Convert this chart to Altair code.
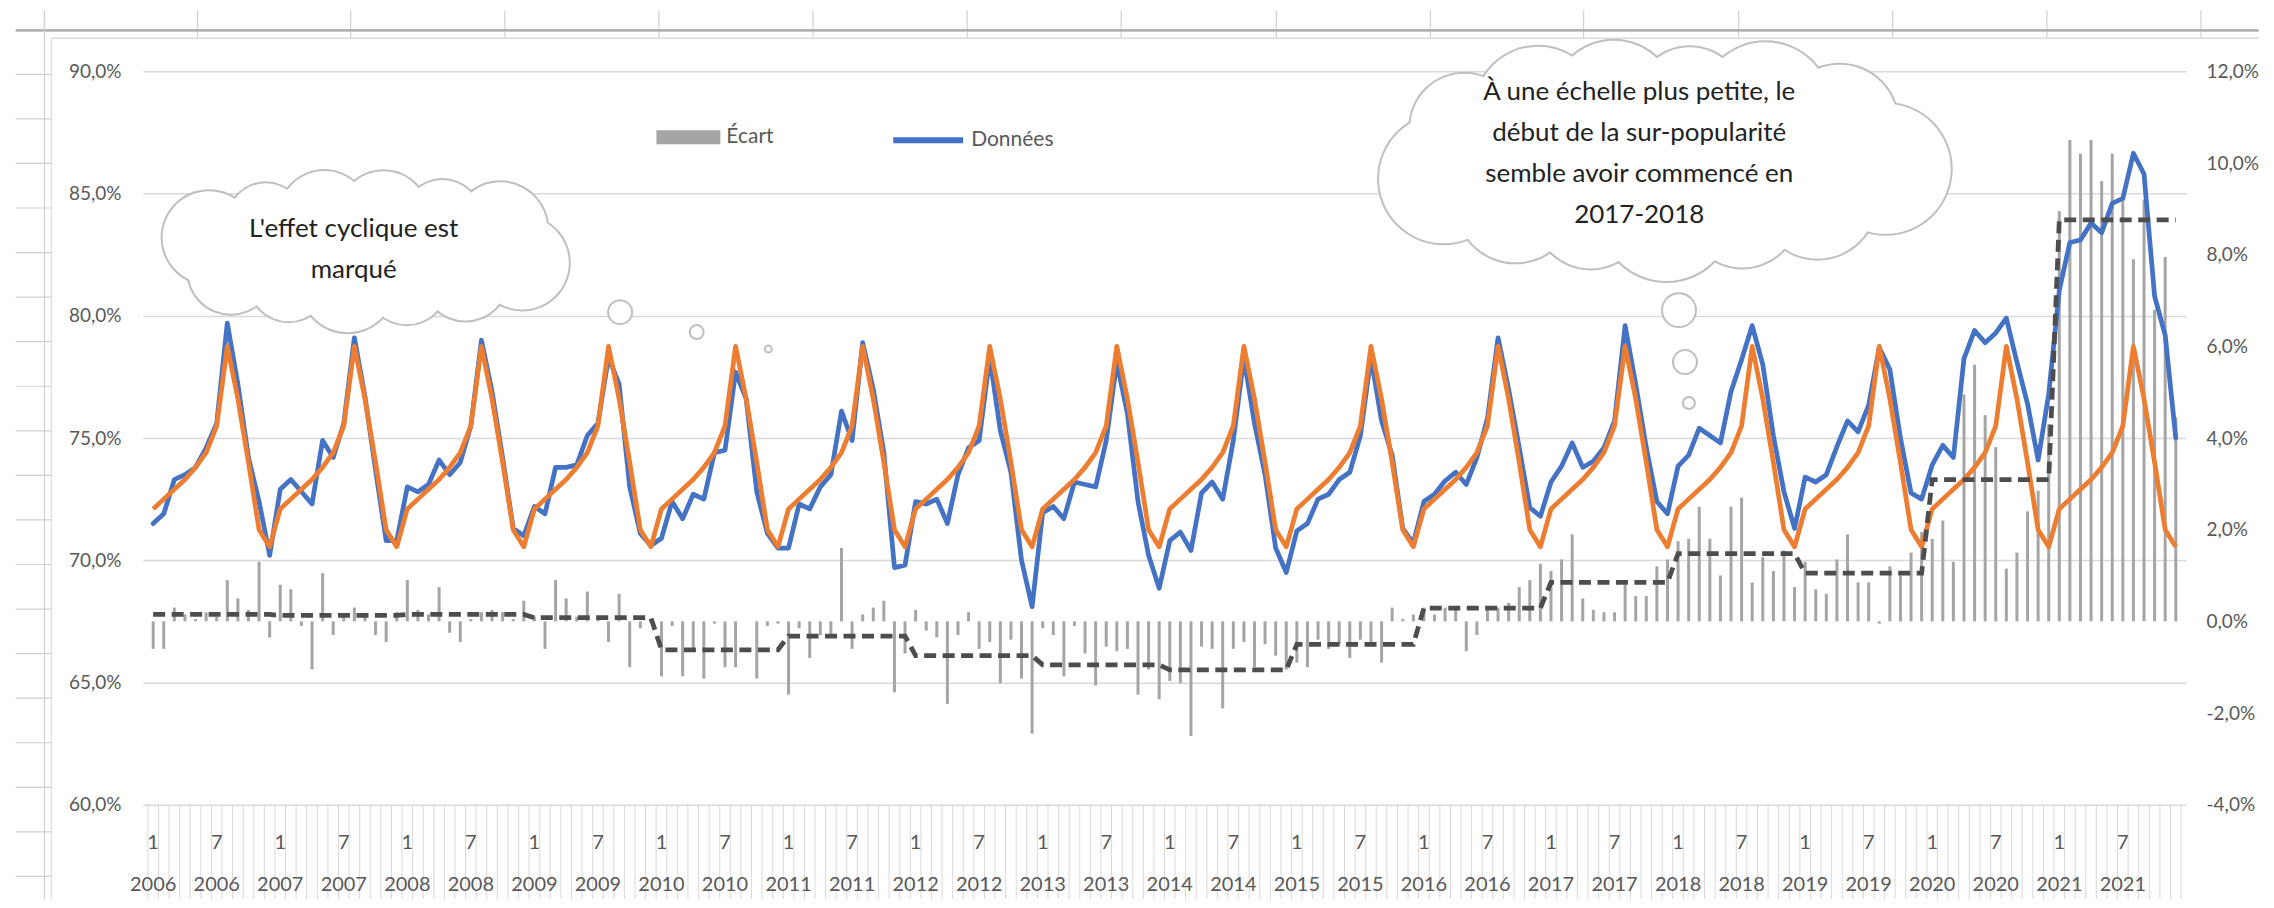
import numpy as np
import pandas as pd
import altair as alt

# ---------------- data ----------------
annees = list(range(2006, 2022))
etiquettes_mois = {0: "1", 6: "7"}   # month labels shown under January and July

donnees_par_an = [
    [71.5, 71.9, 73.3, 73.5, 73.8, 74.6, 75.6, 79.7, 77.2, 74.2, 72.4, 70.2],
    [72.9, 73.3, 72.8, 72.3, 74.9, 74.2, 75.6, 79.1, 76.7, 73.7, 70.8, 70.8],
    [73.0, 72.8, 73.1, 74.1, 73.5, 74.0, 75.5, 79.0, 76.9, 74.2, 71.3, 71.0],
    [72.2, 71.9, 73.8, 73.8, 73.9, 75.1, 75.6, 78.3, 77.2, 73.0, 71.1, 70.6],
    [70.9, 72.4, 71.7, 72.7, 72.5, 74.4, 74.5, 77.7, 76.6, 72.8, 71.1, 70.5],
    [70.5, 72.3, 72.1, 73.0, 73.5, 76.1, 74.9, 78.9, 77.0, 74.4, 69.7, 69.8],
    [72.4, 72.3, 72.5, 71.5, 73.5, 74.6, 74.9, 78.3, 75.3, 73.6, 70.0, 68.1],
    [71.95, 72.2, 71.7, 73.2, 73.1, 73.0, 74.9, 78.1, 76.0, 72.4, 70.2, 68.85],
    [70.8, 71.15, 70.4, 72.75, 73.2, 72.5, 74.9, 78.3, 75.6, 73.5, 70.5, 69.5],
    [71.2, 71.5, 72.5, 72.7, 73.3, 73.6, 75.1, 78.3, 75.7, 74.3, 71.3, 70.7],
    [72.4, 72.7, 73.25, 73.6, 73.1, 74.2, 75.8, 79.1, 77.0, 74.6, 72.15, 71.8],
    [73.2, 73.85, 74.8, 73.8, 74.05, 74.6, 75.7, 79.6, 77.2, 74.6, 72.4, 71.9],
    [73.85, 74.3, 75.4, 75.1, 74.8, 76.9, 78.2, 79.6, 78.0, 75.1, 72.8, 71.3],
    [73.4, 73.2, 73.5, 74.65, 75.7, 75.25, 76.35, 78.7, 77.8, 75.0, 72.75, 72.5],
    [73.9, 74.7, 74.2, 78.25, 79.4, 78.9, 79.3, 79.9, 78.1, 76.4, 74.1, 76.8],
    [81.05, 83.0, 83.1, 83.8, 83.4, 84.6, 84.8, 86.65, 85.8, 80.8, 79.2, 75.0],
]

modele_par_an = [
    [72.1, 72.5, 72.9, 73.3, 73.8, 74.4, 75.5, 78.75, 76.6, 74.0, 71.25, 70.55],
    [72.1, 72.5, 72.9, 73.3, 73.8, 74.4, 75.5, 78.75, 76.6, 74.0, 71.25, 70.55],
    [72.1, 72.5, 72.9, 73.3, 73.8, 74.4, 75.5, 78.75, 76.6, 74.0, 71.25, 70.55],
    [72.1, 72.5, 72.9, 73.3, 73.8, 74.4, 75.5, 78.75, 76.6, 74.0, 71.25, 70.55],
    [72.1, 72.5, 72.9, 73.3, 73.8, 74.4, 75.5, 78.75, 76.6, 74.0, 71.25, 70.55],
    [72.1, 72.5, 72.9, 73.3, 73.8, 74.4, 75.5, 78.75, 76.6, 74.0, 71.25, 70.55],
    [72.1, 72.5, 72.9, 73.3, 73.8, 74.4, 75.5, 78.75, 76.6, 74.0, 71.25, 70.55],
    [72.1, 72.5, 72.9, 73.3, 73.8, 74.4, 75.5, 78.75, 76.6, 74.0, 71.25, 70.55],
    [72.1, 72.5, 72.9, 73.3, 73.8, 74.4, 75.5, 78.75, 76.6, 74.0, 71.25, 70.55],
    [72.1, 72.5, 72.9, 73.3, 73.8, 74.4, 75.5, 78.75, 76.6, 74.0, 71.25, 70.55],
    [72.1, 72.5, 72.9, 73.3, 73.8, 74.4, 75.5, 78.75, 76.6, 74.0, 71.25, 70.55],
    [72.1, 72.5, 72.9, 73.3, 73.8, 74.4, 75.5, 78.75, 76.6, 74.0, 71.25, 70.55],
    [72.1, 72.5, 72.9, 73.3, 73.8, 74.4, 75.5, 78.75, 76.6, 74.0, 71.25, 70.55],
    [72.1, 72.5, 72.9, 73.3, 73.8, 74.4, 75.5, 78.75, 76.6, 74.0, 71.25, 70.55],
    [72.1, 72.5, 72.9, 73.3, 73.8, 74.4, 75.5, 78.75, 76.6, 74.0, 71.25, 70.55],
    [72.1, 72.5, 72.9, 73.3, 73.8, 74.4, 75.5, 78.75, 76.6, 74.0, 71.25, 70.55],
]

ecart_par_an = [
    [-0.6, -0.6, 0.3, 0.15, 0.05, 0.2, 0.1, 0.9, 0.5, 0.25, 1.3, -0.35],
    [0.8, 0.7, -0.1, -1.05, 1.05, -0.3, 0.15, 0.3, 0.1, -0.3, -0.45, 0.2],
    [0.9, 0.25, 0.15, 0.75, -0.25, -0.45, 0.05, 0.2, 0.25, 0.2, 0.05, 0.45],
    [0.1, -0.6, 0.9, 0.5, 0.1, 0.65, 0.1, -0.45, 0.6, -1.0, -0.15, 0.05],
    [-1.2, -0.1, -1.2, -0.65, -1.25, -0.05, -1.0, -1.0, 0.0, -1.25, -0.1, -0.05],
    [-1.6, -0.15, -0.8, -0.3, -0.3, 1.6, -0.6, 0.15, 0.3, 0.45, -1.55, -0.7],
    [0.25, -0.2, -0.35, -1.8, -0.3, 0.2, -0.6, -0.45, -1.35, -0.4, -1.25, -2.45],
    [-0.15, -0.3, -1.2, -0.1, -0.7, -1.4, -0.55, -0.65, -0.6, -1.6, -1.05, -1.7],
    [-1.3, -1.35, -2.5, -0.55, -0.6, -1.9, -0.6, -0.45, -1.0, -0.5, -0.75, -1.05],
    [-0.9, -1.0, -0.4, -0.6, -0.5, -0.8, -0.4, -0.45, -0.9, 0.3, 0.05, 0.15],
    [0.3, 0.15, 0.3, 0.25, -0.65, -0.3, 0.25, 0.3, 0.4, 0.75, 0.9, 1.25],
    [1.1, 1.35, 1.9, 0.5, 0.25, 0.2, 0.2, 0.8, 0.55, 0.55, 1.2, 1.35],
    [1.75, 1.8, 2.5, 1.8, 1.0, 2.5, 2.7, 0.85, 1.4, 1.1, 1.55, 0.75],
    [1.3, 0.7, 0.6, 1.35, 1.9, 0.85, 0.85, -0.05, 1.2, 1.0, 1.5, 1.95],
    [1.8, 2.2, 1.3, 4.95, 5.6, 4.5, 3.8, 1.15, 1.5, 2.4, 2.85, 4.3],
    [8.95, 10.5, 10.2, 10.5, 9.6, 10.2, 9.3, 7.9, 9.2, 6.8, 7.95, 4.45],
]

# yearly average of the gap (dashed step line, right axis)
moyenne_ecart_annuelle = [0.15, 0.13, 0.15, 0.08, -0.62, -0.32, -0.75, -0.95,
                          -1.06, -0.5, 0.29, 0.85, 1.48, 1.05, 3.09, 8.76]

gauche_ticks = [60, 65, 70, 75, 80, 85, 90]
droite_ticks = [-4, -2, 0, 2, 4, 6, 8, 10, 12]

rows = []
for k, an in enumerate(annees):
    for m in range(12):
        rows.append(dict(idx=k * 12 + m, annee=an, mois=m + 1,
                         donnees=donnees_par_an[k][m], modele=modele_par_an[k][m],
                         ecart=ecart_par_an[k][m], moyenne=moyenne_ecart_annuelle[k],
                         zero=0.0, s_e="Écart", s_d="Données"))
df = pd.DataFrame(rows)
N = len(df)

# ---------------- layout ----------------
PLOT_W, PLOT_H = 2045, 734
PAD_L, PAD_T, PAD_R, PAD_B = 135, 63, 80, 94
X0, Y0 = 8 + PAD_L, 8 + PAD_T


def to_idx(X):
    return (X - X0) / PLOT_W * N - 0.5


def to_pct(Y):
    return 90 - (Y - Y0) / PLOT_H * 30


FONT = "Lato"
TXT = "#595959"
PCT_EXPR = "(datum.value < 0 ? '-' : '') + replace(format(abs(datum.value), '.1f'), '.', ',') + '%'"

xs = alt.Scale(domain=[-0.5, N - 0.5], nice=False, zero=False)
yl = alt.Scale(domain=[60, 90], nice=False, zero=False)
yr = alt.Scale(domain=[-4, 12], nice=False, zero=False)


def X(field):
    return alt.X(field, scale=xs, axis=None)


left_axis = alt.Axis(orient="left", values=gauche_ticks, grid=True, gridColor="#d9d9d9", gridWidth=1.5,
                     ticks=False, domain=False, title=None, labelPadding=22, labelExpr=PCT_EXPR,
                     labelFont=FONT, labelFontSize=19, labelColor=TXT)
right_axis = alt.Axis(orient="right", values=droite_ticks, grid=False, ticks=False, domain=False,
                      title=None, labelPadding=20, labelExpr=PCT_EXPR,
                      labelFont=FONT, labelFontSize=19, labelColor=TXT)

leg_e = alt.Legend(orient="none", legendX=514, legendY=34, title=None, padding=0,
                   symbolType="M-1,-0.22H1V0.22H-1Z", symbolSize=4096, symbolStrokeWidth=0,
                   labelFont=FONT, labelFontSize=21, labelColor=TXT, labelOffset=6)
leg_d = alt.Legend(orient="none", legendX=748, legendY=31, title=None, padding=0,
                   symbolType="stroke", symbolSize=4900, symbolStrokeWidth=6,
                   labelFont=FONT, labelFontSize=21, labelColor=TXT, labelOffset=5)

# ---------------- decorations (spreadsheet grid behind the chart) ----------------
deco = []
for XX in [39, 193, 347, 502, 657, 812, 967, 1122, 1278, 1433, 1587, 1743, 1898, 2053, 2208]:
    deco.append((XX, XX, 10, 38, "#d0d0d0", 1.2))
deco.append((10, 2266, 30, 30, "#b3b3b3", 3))
deco.append((46, 2266, 38, 38, "#dcdcdc", 1.5))
deco.append((39, 39, 10, 905, "#d0d0d0", 1.2))
deco.append((46, 46, 38, 905, "#e3e3e3", 1.5))
for k in range(19):
    YY = 74 + 44.6 * k
    deco.append((10, 46, YY, YY, "#d0d0d0", 1.2))
deco_df = pd.DataFrame([dict(x=to_idx(a), x2=to_idx(b), y=to_pct(c), y2=to_pct(d), c=col, w=w)
                        for a, b, c, d, col, w in deco])
deco_layer = alt.Chart(deco_df).mark_rule().encode(
    x=X("x:Q"), x2="x2:Q",
    y=alt.Y("y:Q", scale=yl, axis=None), y2="y2:Q",
    color=alt.Color("c:N", scale=None), strokeWidth=alt.StrokeWidth("w:Q", scale=None))

# ---------------- category axis: comb of separators + two-level labels ----------------
comb_df = pd.DataFrame([dict(x=i - 0.5, y=60.0, y2=to_pct(906)) for i in range(N + 1)])
comb = alt.Chart(comb_df).mark_rule(color="#d9d9d9", strokeWidth=1).encode(
    x=X("x:Q"), y=alt.Y("y:Q", scale=yl, axis=None), y2="y2:Q")

lab_rows = []
for i in range(N):
    m = i % 12
    if m in etiquettes_mois:
        lab_rows.append(dict(x=i, y=to_pct(843), t=etiquettes_mois[m]))
        lab_rows.append(dict(x=i, y=to_pct(885), t=str(annees[i // 12])))
lab_df = pd.DataFrame(lab_rows)
xlabels = alt.Chart(lab_df).mark_text(font=FONT, fontSize=20, color=TXT, align="center",
                                      baseline="middle").encode(
    x=X("x:Q"), y=alt.Y("y:Q", scale=yl, axis=None), text="t:N")

# ---------------- chart layers ----------------
bars = alt.Chart(df).mark_bar(size=3).encode(
    x=X("idx:Q"),
    y=alt.Y("ecart:Q", scale=yr, axis=right_axis), y2="zero:Q",
    fill=alt.Fill("s_e:N", scale=alt.Scale(domain=["Écart"], range=["#A5A5A5"]), legend=leg_e))

blue = alt.Chart(df).mark_line(strokeWidth=4.75, strokeJoin="round", strokeCap="round").encode(
    x=X("idx:Q"),
    y=alt.Y("donnees:Q", scale=yl, axis=left_axis),
    stroke=alt.Stroke("s_d:N", scale=alt.Scale(domain=["Données"], range=["#4472C4"]), legend=leg_d))

orange = alt.Chart(df).mark_line(strokeWidth=4.75, color="#ED7D31", strokeJoin="round").encode(
    x=X("idx:Q"), y=alt.Y("modele:Q", scale=yl, axis=None))

dashed = alt.Chart(df).mark_line(strokeWidth=4.75, color="#4D4D4D", strokeDash=[12, 6.5]).encode(
    x=X("idx:Q"), y=alt.Y("moyenne:Q", scale=yr, axis=None))


# ---------------- clouds (annotation shapes) ----------------
def cloud(cx, cy, a, b, n, rl, phase):
    ea, eb = a - rl, b - rl
    t = np.linspace(0, 2 * np.pi, 4000, endpoint=False)
    px, py = ea * np.cos(t), eb * np.sin(t)
    seg = np.hypot(np.diff(np.append(px, px[0])), np.diff(np.append(py, py[0])))
    s = np.concatenate([[0], np.cumsum(seg)[:-1]])
    L = seg.sum()
    lobes = []
    for k in range(n):
        j = min(np.searchsorted(s, (k + phase) * L / n), len(t) - 1)
        r = rl * (1 + 0.1 * np.sin(2.3 * k + 1))
        lobes.append((cx + px[j], cy + py[j], r))
    inner = []
    for xj in np.arange(-ea, ea + 1, 8):
        h = eb * np.sqrt(max(0.0, 1 - (xj / ea) ** 2))
        inner.append((cx + xj, cy, h + 0.45 * rl))
    return lobes, inner


c1_lobes, c1_inner = cloud(362, 250, 212, 78, 12, 43, 0.3)
c2_lobes, c2_inner = cloud(1663, 158, 292, 117, 13, 60, 0.15)
lobes = c1_lobes + c2_lobes
inner = c1_inner + c2_inner

gray_df = pd.DataFrame([dict(x=to_idx(a), y=to_pct(b), s=(2 * (r + 2)) ** 2) for a, b, r in lobes])
white_df = pd.DataFrame([dict(x=to_idx(a), y=to_pct(b), s=(2 * r) ** 2) for a, b, r in lobes + inner])
bubbles = [(618, 312, 12), (695, 332, 7), (767, 349, 3.5), (1683, 310, 17), (1689, 362, 12), (1693, 403, 6)]
bub_df = pd.DataFrame([dict(x=to_idx(a), y=to_pct(b), s=(2 * r) ** 2) for a, b, r in bubbles])


def pts(d, **mk):
    return alt.Chart(d).mark_point(shape="circle", opacity=1, **mk).encode(
        x=X("x:Q"), y=alt.Y("y:Q", scale=yl, axis=None),
        size=alt.Size("s:Q", scale=None))


cloud_gray = pts(gray_df, filled=True, color="#BFBFBF", strokeWidth=0)
cloud_white = pts(white_df, filled=True, color="white", strokeWidth=0)
cloud_bub = pts(bub_df, fill="white", stroke="#BFBFBF", strokeWidth=2, fillOpacity=1)

textes = [
    (350, 229, "L'effet cyclique est"),
    (350, 270, "marqué"),
    (1643, 92, "À une échelle plus petite, le"),
    (1643, 133, "début de la sur-popularité"),
    (1643, 174, "semble avoir commencé en"),
    (1643, 215, "2017-2018"),
]
txt_df = pd.DataFrame([dict(x=to_idx(a), y=to_pct(b), t=t) for a, b, t in textes])
txt_layer = alt.Chart(txt_df).mark_text(font=FONT, fontSize=26, color="#222222",
                                        align="center", baseline="middle").encode(
    x=X("x:Q"), y=alt.Y("y:Q", scale=yl, axis=None), text="t:N")

chart = alt.layer(
    deco_layer, comb, xlabels, bars, blue, orange, dashed, cloud_gray, cloud_white, cloud_bub, txt_layer
).resolve_scale(y="independent").properties(
    width=PLOT_W, height=PLOT_H,
    padding={"left": PAD_L, "top": PAD_T, "right": PAD_R, "bottom": PAD_B},
    autosize=alt.AutoSizeParams(type="none"),
    background="white",
).configure_view(stroke=None)

chart.save("out.html", embed_options={"renderer": "svg", "actions": False})
